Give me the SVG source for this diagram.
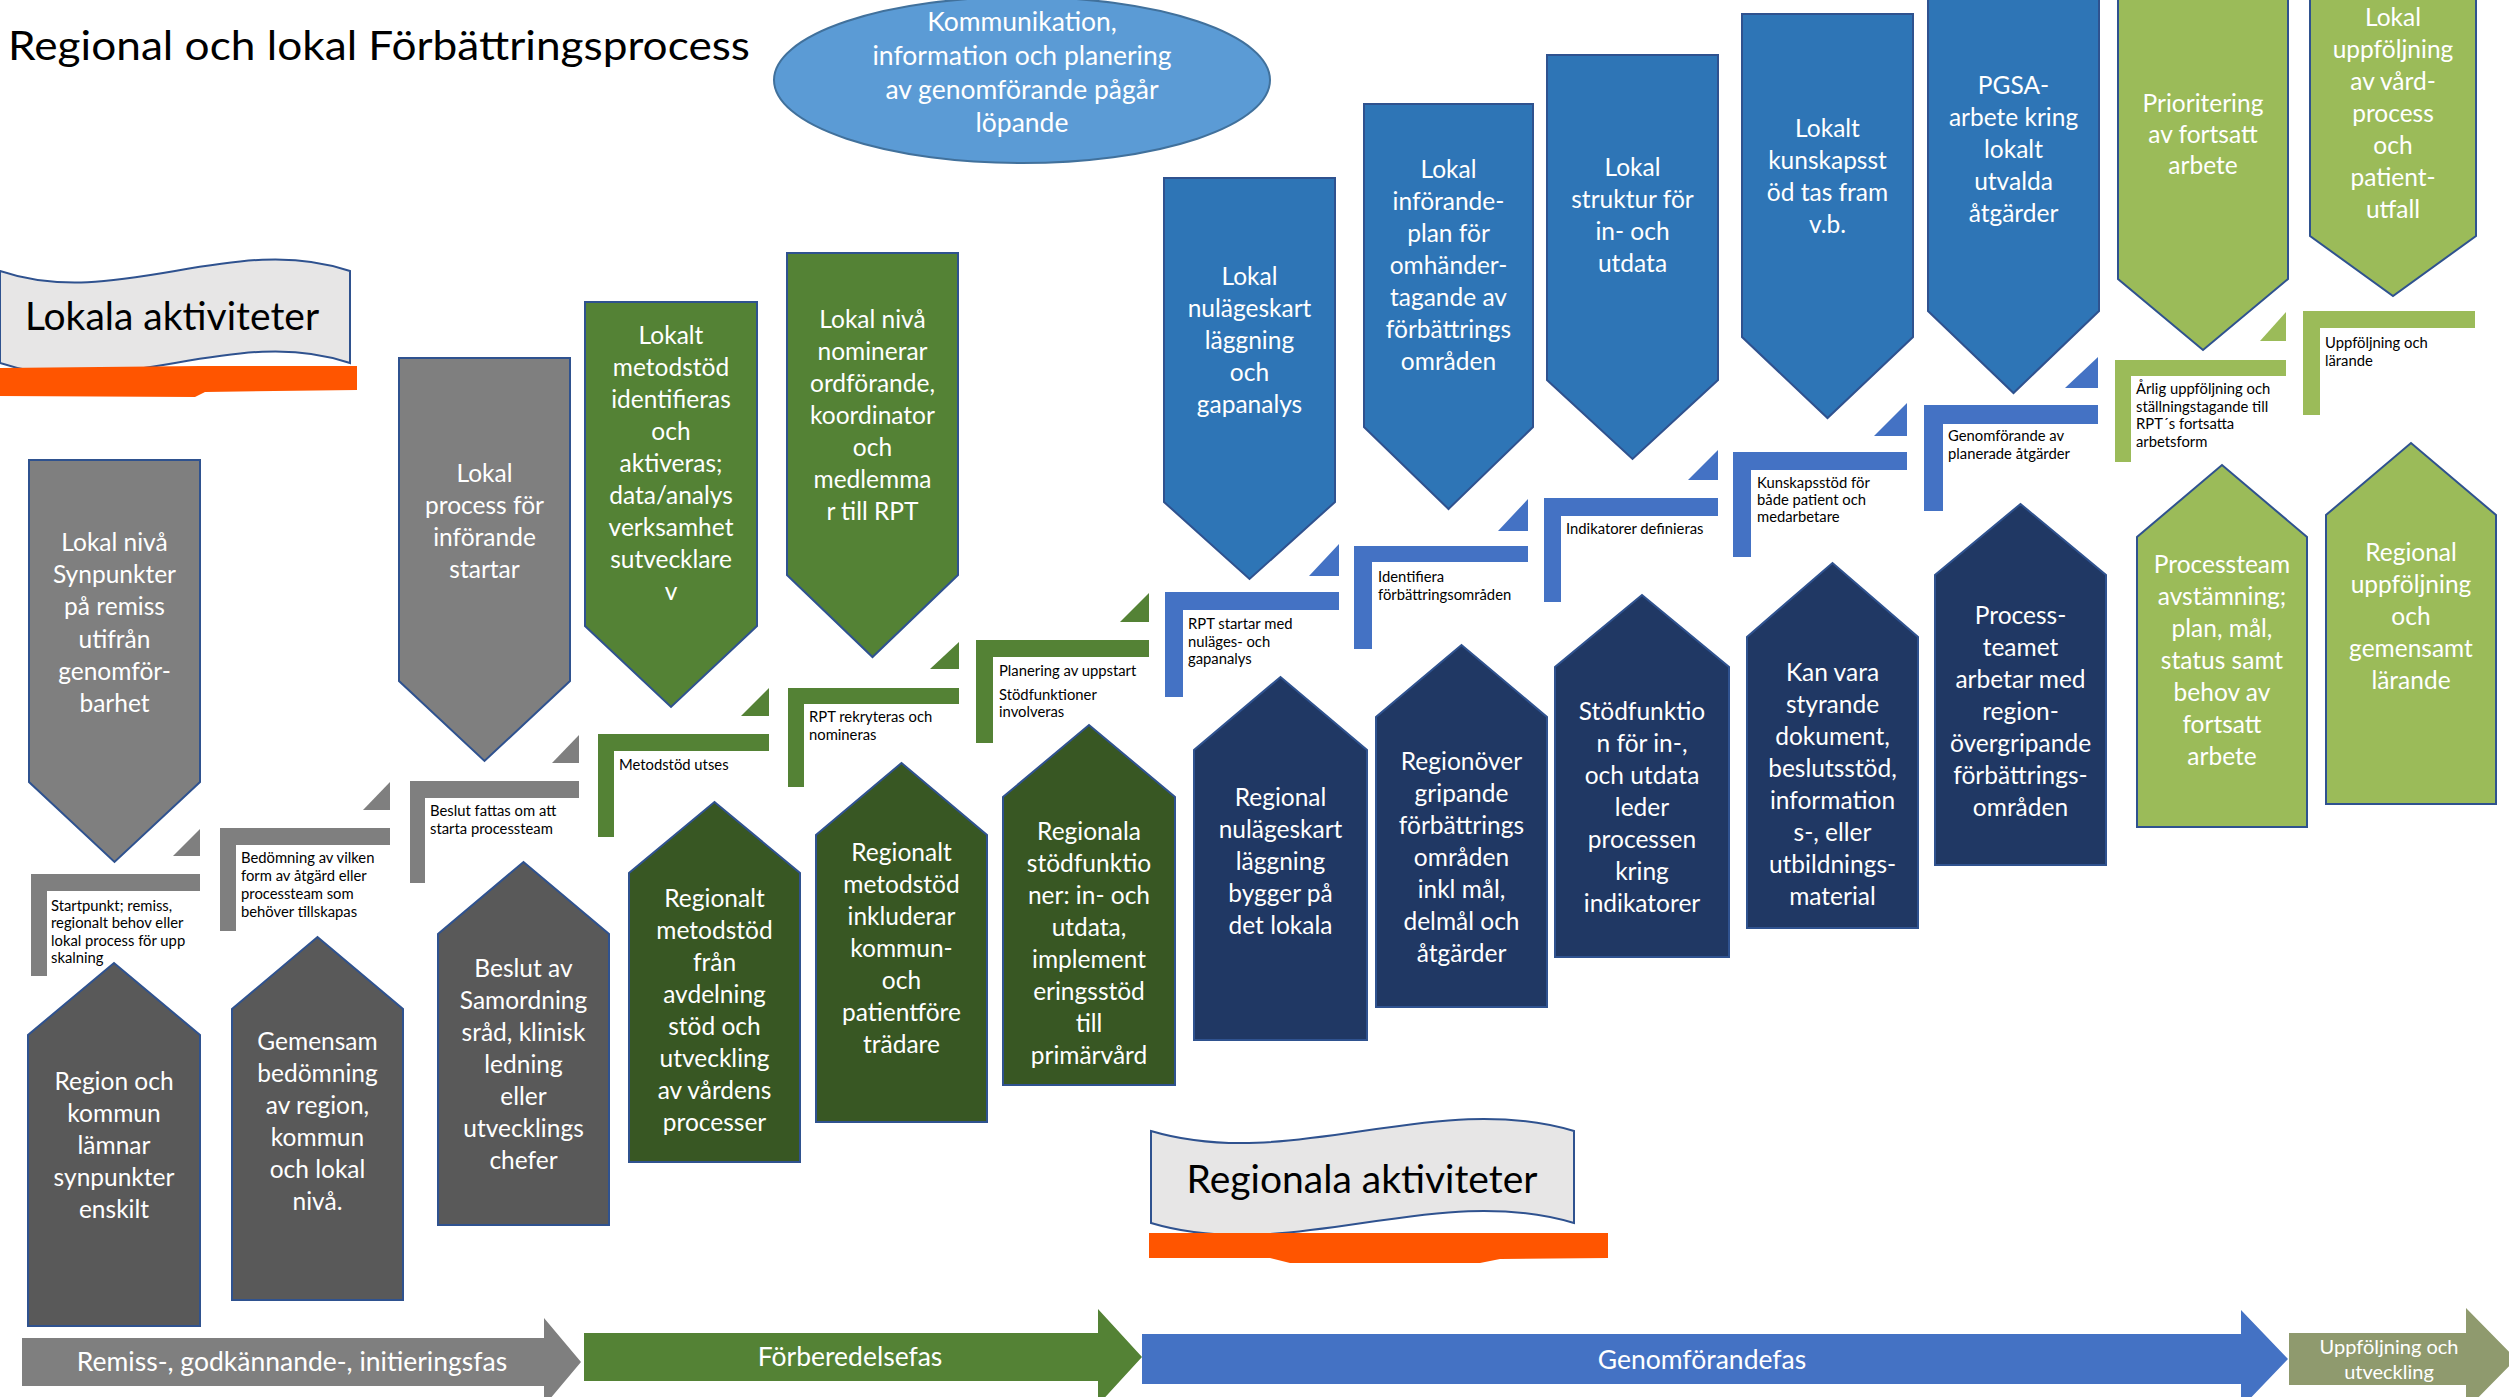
<svg xmlns="http://www.w3.org/2000/svg" width="2509" height="1397" viewBox="0 0 2509 1397">
<style>
.nt{font-family:Lato,'Liberation Sans',sans-serif;font-size:24.5px;fill:#fff;text-anchor:middle}
.ct{font-family:Lato,'Liberation Sans',sans-serif;font-size:14.8px;fill:#000}
.at{font-family:Lato,'Liberation Sans',sans-serif;font-size:26.5px;fill:#fff;text-anchor:middle}
.bt{font-family:Lato,'Liberation Sans',sans-serif;font-size:39px;fill:#000;text-anchor:middle}
.nd{stroke:#2F528F;stroke-width:2}
.gy{fill:#7F7F7F}.gn{fill:#548235}.bl{fill:#2E75B6}.lg{fill:#9BBB59}
.dg{fill:#595959}.dn{fill:#385723}.nv{fill:#203864}
.cg{fill:#7F7F7F}.cn{fill:#548235}.cb{fill:#4472C4}.cl{fill:#9BBB59}
.or{fill:#FF5500}
</style>
<rect width="2509" height="1397" fill="#fff"/>

<text id="title" x="8" y="60" font-family="Lato,'Liberation Sans',sans-serif" font-size="40" fill="#000" textLength="742" lengthAdjust="spacingAndGlyphs">Regional och lokal Förbättringsprocess</text>

<g id="kommunikation">
<ellipse cx="1022" cy="80" rx="248" ry="83" fill="#5B9BD5" stroke="#41719C" stroke-width="2"/>
<text class="nt" style="font-size:26.5px" x="1022" y="31">Kommunikation,<tspan x="1022" dy="34">information och planering</tspan><tspan x="1022" dy="34">av genomförande pågår</tspan><tspan x="1022" dy="33">löpande</tspan></text>
</g>

<g id="lokala-aktiviteter">
<path d="M0,271 C117,311 233,231 350,271 L350,363 C233,323 117,403 0,363 Z" fill="#E7E6E6" stroke="#2F528F" stroke-width="2"/>
<path class="or" d="M0,368 L200,366 L357,366 L357,390 L205,392 L195,397 L0,396 Z"/>
<text class="bt" x="172" y="330">Lokala aktiviteter</text>
</g>

<g id="regionala-aktiviteter">
<path d="M1151,1131 C1292,1173 1433,1089 1574,1131 L1574,1223 C1433,1181 1292,1265 1151,1223 Z" fill="#E7E6E6" stroke="#2F528F" stroke-width="2"/>
<path class="or" d="M1149,1233 L1608,1233 L1608,1258 L1500,1259 L1480,1263 L1290,1263 L1270,1258 L1149,1258 Z"/>
<text class="bt" x="1362" y="1193">Regionala aktiviteter</text>
</g>

<!-- Local (top) nodes -->
<g id="t1"><polygon class="nd gy" points="29,460 200,460 200,782 114.5,862 29,782"/>
<text class="nt" x="114.5" y="551">Lokal nivå<tspan x="114.5" dy="32.2">Synpunkter</tspan><tspan x="114.5" dy="32.2">på remiss</tspan><tspan x="114.5" dy="32.2">utifrån</tspan><tspan x="114.5" dy="32.2">genomför-</tspan><tspan x="114.5" dy="32.2">barhet</tspan></text></g>

<g id="t2"><polygon class="nd gy" points="399,358 570,358 570,681 484.5,761 399,681"/>
<text class="nt" x="484.5" y="482">Lokal<tspan x="484.5" dy="32">process för</tspan><tspan x="484.5" dy="32">införande</tspan><tspan x="484.5" dy="32">startar</tspan></text></g>

<g id="t3"><polygon class="nd gn" points="585,302 757,302 757,626 671,707 585,626"/>
<text class="nt" x="671" y="344">Lokalt<tspan x="671" dy="32">metodstöd</tspan><tspan x="671" dy="32">identifieras</tspan><tspan x="671" dy="32">och</tspan><tspan x="671" dy="32">aktiveras;</tspan><tspan x="671" dy="32">data/analys</tspan><tspan x="671" dy="32">verksamhet</tspan><tspan x="671" dy="32">sutvecklare</tspan><tspan x="671" dy="32">v</tspan></text></g>

<g id="t4"><polygon class="nd gn" points="787,253 958,253 958,575 872.5,657 787,575"/>
<text class="nt" x="872.5" y="328">Lokal nivå<tspan x="872.5" dy="32">nominerar</tspan><tspan x="872.5" dy="32">ordförande,</tspan><tspan x="872.5" dy="32">koordinator</tspan><tspan x="872.5" dy="32">och</tspan><tspan x="872.5" dy="32">medlemma</tspan><tspan x="872.5" dy="32">r till RPT</tspan></text></g>

<g id="t5"><polygon class="nd bl" points="1164,178 1335,178 1335,502 1249.5,579 1164,502"/>
<text class="nt" x="1249.5" y="285">Lokal<tspan x="1249.5" dy="32">nulägeskart</tspan><tspan x="1249.5" dy="32">läggning</tspan><tspan x="1249.5" dy="32">och</tspan><tspan x="1249.5" dy="32">gapanalys</tspan></text></g>

<g id="t6"><polygon class="nd bl" points="1364,104 1533,104 1533,427 1448.5,509 1364,427"/>
<text class="nt" x="1448.5" y="178">Lokal<tspan x="1448.5" dy="32">införande-</tspan><tspan x="1448.5" dy="32">plan för</tspan><tspan x="1448.5" dy="32">omhänder-</tspan><tspan x="1448.5" dy="32">tagande av</tspan><tspan x="1448.5" dy="32">förbättrings</tspan><tspan x="1448.5" dy="32">områden</tspan></text></g>

<g id="t7"><polygon class="nd bl" points="1547,55 1718,55 1718,380 1632.5,459 1547,380"/>
<text class="nt" x="1632.5" y="176">Lokal<tspan x="1632.5" dy="32">struktur för</tspan><tspan x="1632.5" dy="32">in- och</tspan><tspan x="1632.5" dy="32">utdata</tspan></text></g>

<g id="t8"><polygon class="nd bl" points="1742,14 1913,14 1913,337 1827.5,418 1742,337"/>
<text class="nt" x="1827.5" y="137">Lokalt<tspan x="1827.5" dy="32">kunskapsst</tspan><tspan x="1827.5" dy="32">öd tas fram</tspan><tspan x="1827.5" dy="32">v.b.</tspan></text></g>

<g id="t9"><polygon class="nd bl" points="1928,-5 2099,-5 2099,311 2013.5,393 1928,311"/>
<text class="nt" x="2013.5" y="94">PGSA-<tspan x="2013.5" dy="32">arbete kring</tspan><tspan x="2013.5" dy="32">lokalt</tspan><tspan x="2013.5" dy="32">utvalda</tspan><tspan x="2013.5" dy="32">åtgärder</tspan></text></g>

<g id="t10"><polygon class="nd lg" points="2118,-5 2288,-5 2288,279 2203,350 2118,279"/>
<text class="nt" x="2203" y="112">Prioritering<tspan x="2203" dy="31">av fortsatt</tspan><tspan x="2203" dy="31">arbete</tspan></text></g>

<g id="t11"><polygon class="nd lg" points="2310,-5 2476,-5 2476,236 2393,296 2310,236"/>
<text class="nt" x="2393" y="26">Lokal<tspan x="2393" dy="32">uppföljning</tspan><tspan x="2393" dy="32">av vård-</tspan><tspan x="2393" dy="32">process</tspan><tspan x="2393" dy="32">och</tspan><tspan x="2393" dy="32">patient-</tspan><tspan x="2393" dy="32">utfall</tspan></text></g>

<!-- Regional (bottom) nodes -->
<g id="b1"><polygon class="nd dg" points="28,1326 28,1035 114,963 200,1035 200,1326"/>
<text class="nt" x="114" y="1090">Region och<tspan x="114" dy="32">kommun</tspan><tspan x="114" dy="32">lämnar</tspan><tspan x="114" dy="32">synpunkter</tspan><tspan x="114" dy="32">enskilt</tspan></text></g>

<g id="b2"><polygon class="nd dg" points="232,1300 232,1009 317.5,937 403,1009 403,1300"/>
<text class="nt" x="317.5" y="1050">Gemensam<tspan x="317.5" dy="32">bedömning</tspan><tspan x="317.5" dy="32">av region,</tspan><tspan x="317.5" dy="32">kommun</tspan><tspan x="317.5" dy="32">och lokal</tspan><tspan x="317.5" dy="32">nivå.</tspan></text></g>

<g id="b3"><polygon class="nd dg" points="438,1225 438,934 523.5,862 609,934 609,1225"/>
<text class="nt" x="523.5" y="977">Beslut av<tspan x="523.5" dy="32">Samordning</tspan><tspan x="523.5" dy="32">sråd, klinisk</tspan><tspan x="523.5" dy="32">ledning</tspan><tspan x="523.5" dy="32">eller</tspan><tspan x="523.5" dy="32">utvecklings</tspan><tspan x="523.5" dy="32">chefer</tspan></text></g>

<g id="b4"><polygon class="nd dn" points="629,1162 629,873 714.5,802 800,873 800,1162"/>
<text class="nt" x="714.5" y="907">Regionalt<tspan x="714.5" dy="32">metodstöd</tspan><tspan x="714.5" dy="32">från</tspan><tspan x="714.5" dy="32">avdelning</tspan><tspan x="714.5" dy="32">stöd och</tspan><tspan x="714.5" dy="32">utveckling</tspan><tspan x="714.5" dy="32">av vårdens</tspan><tspan x="714.5" dy="32">processer</tspan></text></g>

<g id="b5"><polygon class="nd dn" points="816,1122 816,835 901.5,763 987,835 987,1122"/>
<text class="nt" x="901.5" y="861">Regionalt<tspan x="901.5" dy="32">metodstöd</tspan><tspan x="901.5" dy="32">inkluderar</tspan><tspan x="901.5" dy="32">kommun-</tspan><tspan x="901.5" dy="32">och</tspan><tspan x="901.5" dy="32">patientföre</tspan><tspan x="901.5" dy="32">trädare</tspan></text></g>

<g id="b6"><polygon class="nd dn" points="1003,1085 1003,797 1089,725 1175,797 1175,1085"/>
<text class="nt" x="1089" y="840">Regionala<tspan x="1089" dy="32">stödfunktio</tspan><tspan x="1089" dy="32">ner: in- och</tspan><tspan x="1089" dy="32">utdata,</tspan><tspan x="1089" dy="32">implement</tspan><tspan x="1089" dy="32">eringsstöd</tspan><tspan x="1089" dy="32">till</tspan><tspan x="1089" dy="32">primärvård</tspan></text></g>

<g id="b7"><polygon class="nd nv" points="1194,1040 1194,750 1280.5,677 1367,750 1367,1040"/>
<text class="nt" x="1280.5" y="806">Regional<tspan x="1280.5" dy="32">nulägeskart</tspan><tspan x="1280.5" dy="32">läggning</tspan><tspan x="1280.5" dy="32">bygger på</tspan><tspan x="1280.5" dy="32">det lokala</tspan></text></g>

<g id="b8"><polygon class="nd nv" points="1376,1007 1376,717 1461.5,645 1547,717 1547,1007"/>
<text class="nt" x="1461.5" y="770">Regionöver<tspan x="1461.5" dy="32">gripande</tspan><tspan x="1461.5" dy="32">förbättrings</tspan><tspan x="1461.5" dy="32">områden</tspan><tspan x="1461.5" dy="32">inkl mål,</tspan><tspan x="1461.5" dy="32">delmål och</tspan><tspan x="1461.5" dy="32">åtgärder</tspan></text></g>

<g id="b9"><polygon class="nd nv" points="1555,957 1555,667 1642,595 1729,667 1729,957"/>
<text class="nt" x="1642" y="720">Stödfunktio<tspan x="1642" dy="32">n för in-,</tspan><tspan x="1642" dy="32">och utdata</tspan><tspan x="1642" dy="32">leder</tspan><tspan x="1642" dy="32">processen</tspan><tspan x="1642" dy="32">kring</tspan><tspan x="1642" dy="32">indikatorer</tspan></text></g>

<g id="b10"><polygon class="nd nv" points="1747,928 1747,637 1832.5,563 1918,637 1918,928"/>
<text class="nt" x="1832.5" y="681">Kan vara<tspan x="1832.5" dy="32">styrande</tspan><tspan x="1832.5" dy="32">dokument,</tspan><tspan x="1832.5" dy="32">beslutsstöd,</tspan><tspan x="1832.5" dy="32">information</tspan><tspan x="1832.5" dy="32">s-, eller</tspan><tspan x="1832.5" dy="32">utbildnings-</tspan><tspan x="1832.5" dy="32">material</tspan></text></g>

<g id="b11"><polygon class="nd nv" points="1935,865 1935,575 2020.5,504 2106,575 2106,865"/>
<text class="nt" x="2020.5" y="624">Process-<tspan x="2020.5" dy="32">teamet</tspan><tspan x="2020.5" dy="32">arbetar med</tspan><tspan x="2020.5" dy="32">region-</tspan><tspan x="2020.5" dy="32">övergripande</tspan><tspan x="2020.5" dy="32">förbättrings-</tspan><tspan x="2020.5" dy="32">områden</tspan></text></g>

<g id="b12"><polygon class="nd lg" points="2137,827 2137,537 2222,465 2307,537 2307,827"/>
<text class="nt" x="2222" y="573">Processteam<tspan x="2222" dy="32">avstämning;</tspan><tspan x="2222" dy="32">plan, mål,</tspan><tspan x="2222" dy="32">status samt</tspan><tspan x="2222" dy="32">behov av</tspan><tspan x="2222" dy="32">fortsatt</tspan><tspan x="2222" dy="32">arbete</tspan></text></g>

<g id="b13"><polygon class="nd lg" points="2326,804 2326,515 2411,443 2496,515 2496,804"/>
<text class="nt" x="2411" y="561">Regional<tspan x="2411" dy="32">uppföljning</tspan><tspan x="2411" dy="32">och</tspan><tspan x="2411" dy="32">gemensamt</tspan><tspan x="2411" dy="32">lärande</tspan></text></g>

<!-- Connectors: step L-shapes with triangles -->
<g id="connectors">
<g id="s1"><path class="cg" d="M31,874 H200 V891 H47 V976 H31 Z"/><path class="cg" d="M173,856 H200 V829 Z"/>
<text class="ct" x="51" y="911">Startpunkt; remiss,<tspan x="51" dy="17.3">regionalt behov eller</tspan><tspan x="51" dy="17.3">lokal process för upp</tspan><tspan x="51" dy="17.3">skalning</tspan></text></g>
<g id="s2"><path class="cg" d="M220,828 H390 V845 H236 V931 H220 Z"/><path class="cg" d="M363,810 H390 V782 Z"/>
<text class="ct" x="241" y="863">Bedömning av vilken<tspan x="241" dy="18">form av åtgärd eller</tspan><tspan x="241" dy="18">processteam som</tspan><tspan x="241" dy="18">behöver tillskapas</tspan></text></g>
<g id="s3"><path class="cg" d="M410,781 H579 V798 H425 V883 H410 Z"/><path class="cg" d="M552,763 H579 V735 Z"/>
<text class="ct" x="430" y="816">Beslut fattas om att<tspan x="430" dy="18">starta processteam</tspan></text></g>
<g id="s4"><path class="cn" d="M598,734 H769 V751 H614 V837 H598 Z"/><path class="cn" d="M741,716 H769 V688 Z"/>
<text class="ct" x="619" y="770">Metodstöd utses</text></g>
<g id="s5"><path class="cn" d="M788,688 H959 V704 H804 V787 H788 Z"/><path class="cn" d="M930,669 H959 V642 Z"/>
<text class="ct" x="809" y="722">RPT rekryteras och<tspan x="809" dy="18">nomineras</tspan></text></g>
<g id="s6"><path class="cn" d="M976,640 H1149 V657 H993 V743 H976 Z"/><path class="cn" d="M1120,622 H1149 V593 Z"/>
<text class="ct" x="999" y="676">Planering av uppstart<tspan x="999" dy="24">Stödfunktioner</tspan><tspan x="999" dy="17.3">involveras</tspan></text></g>
<g id="s7"><path class="cb" d="M1165,592 H1339 V610 H1183 V697 H1165 Z"/><path class="cb" d="M1309,576 H1339 V544 Z"/>
<text class="ct" x="1188" y="629">RPT startar med<tspan x="1188" dy="17.5">nuläges- och</tspan><tspan x="1188" dy="17.5">gapanalys</tspan></text></g>
<g id="s8"><path class="cb" d="M1354,546 H1528 V562 H1372 V649 H1354 Z"/><path class="cb" d="M1498,531 H1528 V499 Z"/>
<text class="ct" x="1378" y="582">Identifiera<tspan x="1378" dy="18">förbättringsområden</tspan></text></g>
<g id="s9"><path class="cb" d="M1544,498 H1718 V516 H1561 V602 H1544 Z"/><path class="cb" d="M1688,480 H1718 V450 Z"/>
<text class="ct" x="1566" y="534">Indikatorer definieras</text></g>
<g id="s10"><path class="cb" d="M1733,452 H1907 V470 H1751 V557 H1733 Z"/><path class="cb" d="M1874,436 H1907 V403 Z"/>
<text class="ct" x="1757" y="488">Kunskapsstöd för<tspan x="1757" dy="17">både patient och</tspan><tspan x="1757" dy="17">medarbetare</tspan></text></g>
<g id="s11"><path class="cb" d="M1924,405 H2098 V424 H1943 V511 H1924 Z"/><path class="cb" d="M2065,388 H2098 V357 Z"/>
<text class="ct" x="1948" y="441">Genomförande av<tspan x="1948" dy="18">planerade åtgärder</tspan></text></g>
<g id="s12"><path class="cl" d="M2115,360 H2286 V376 H2131 V462 H2115 Z"/><path class="cl" d="M2260,341 H2286 V312 Z"/>
<text class="ct" x="2136" y="394">Årlig uppföljning och<tspan x="2136" dy="17.7">ställningstagande till</tspan><tspan x="2136" dy="17.7">RPT´s fortsatta</tspan><tspan x="2136" dy="17.7">arbetsform</tspan></text></g>
<g id="s13"><path class="cl" d="M2303,311 H2475 V328 H2320 V415 H2303 Z"/>
<text class="ct" x="2325" y="348">Uppföljning och<tspan x="2325" dy="17.5">lärande</tspan></text></g>
</g>

<!-- Phase arrows -->
<g id="phase-remiss"><path class="cg" d="M22,1338 H544 V1318 L581,1362 L544,1406 V1386 H22 Z"/>
<text class="at" x="292" y="1371">Remiss-, godkännande-, initieringsfas</text></g>
<g id="phase-forberedelse"><path class="cn" d="M584,1333 H1098 V1309 L1142,1357 L1098,1405 V1381 H584 Z"/>
<text class="at" x="850" y="1366">Förberedelsefas</text></g>
<g id="phase-genomforande"><path class="cb" d="M1142,1334 H2241 V1310 L2288,1359 L2241,1408 V1384 H1142 Z"/>
<text class="at" x="1702" y="1369">Genomförandefas</text></g>
<g id="phase-uppfoljning"><path d="M2289,1333 H2466 V1308 L2516,1359 L2466,1410 V1385 H2289 Z" fill="#8F9A6E"/>
<text class="at" style="font-size:20px" x="2389" y="1354">Uppföljning och<tspan x="2389" dy="25">utveckling</tspan></text></g>
</svg>
